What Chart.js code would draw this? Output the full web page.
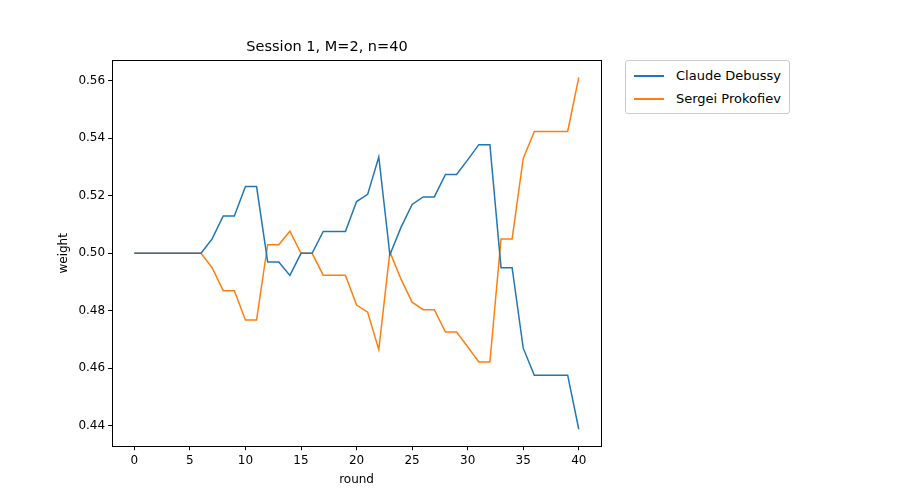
<!DOCTYPE html>
<html><head><meta charset="utf-8">
<script src="https://cdn.jsdelivr.net/npm/chart.js@4"></script>
<style>
body{margin:0;background:#fff;font-family:"DejaVu Sans",sans-serif;}
#wrap{position:relative;width:900px;height:500px;}
#legend{position:absolute;left:625px;top:60px;border:1px solid #ccc;border-radius:3px;padding:3px 8px;font-size:13px;color:#000;background:#fff;}
.li{display:flex;align-items:center;height:23px;}
.sw{width:30px;height:2px;margin-right:12px;}
</style></head>
<body><div id="wrap"><canvas id="c" width="900" height="500"></canvas>
<div id="legend"></div></div>
<script>
const rounds = Array.from({length:41},(_,i)=>i);
const debussy = [0.5,0.5,0.5,0.5,0.5,0.5,0.5,0.505,0.513,0.513,0.5232,0.5232,0.497,0.497,0.4923,0.5,0.5,0.5076,0.5076,0.5076,0.518,0.5205,0.5335,0.4995,0.509,0.517,0.5196,0.5196,0.5274,0.5274,0.5325,0.5378,0.5378,0.495,0.495,0.467,0.4576,0.4576,0.4576,0.4576,0.4388];
const prokofiev = [0.5,0.5,0.5,0.5,0.5,0.5,0.5,0.495,0.487,0.487,0.4768,0.4768,0.503,0.503,0.5077,0.5,0.5,0.4924,0.4924,0.4924,0.482,0.4795,0.4665,0.5005,0.491,0.483,0.4804,0.4804,0.4726,0.4726,0.4675,0.4622,0.4622,0.505,0.505,0.533,0.5424,0.5424,0.5424,0.5424,0.5612];
const xTicks = [0,5,10,15,20,25,30,35,40];
const yTicks = [0.44,0.46,0.48,0.50,0.52,0.54,0.56];
const names = ["Claude Debussy","Sergei Prokofiev"];
const colors = ["#1f77b4","#ff7f0e"];
const font = {family:"DejaVu Sans",size:12};
Chart.defaults.color="#000";
const tickCfg = {display:true,drawOnChartArea:false,drawTicks:true,tickLength:4,color:"#000"};
const frame = {id:"frame",afterDraw(c){const a=c.chartArea,x=c.ctx;x.save();x.strokeStyle="#000";x.lineWidth=1;x.strokeRect(Math.round(a.left)+0.5,Math.round(a.top)+0.5,Math.round(a.right-a.left),Math.round(a.bottom-a.top));x.restore();}};
new Chart(document.getElementById("c"),{
 type:"line",
 data:{datasets:[debussy,prokofiev].map((s,k)=>({label:names[k],data:s.map((v,i)=>({x:rounds[i],y:v})),borderColor:colors[k],borderWidth:1.5,pointRadius:0,tension:0,fill:false}))},
 options:{responsive:false,animation:false,
  layout:{padding:{left:53,right:299,top:8,bottom:9}},
  plugins:{legend:{display:false},tooltip:{enabled:false},
   title:{display:true,text:"Session 1, M=2, n=40",font:{family:"DejaVu Sans",size:14.5,weight:"normal"},color:"#000",padding:{top:31,bottom:4}}},
  scales:{
   x:{type:"linear",min:-2,max:42,grid:tickCfg,border:{color:"#000"},
     afterBuildTicks:a=>{a.ticks=xTicks.map(v=>({value:v}));},
     ticks:{font,padding:3,maxRotation:0,callback:v=>String(v)},
     title:{display:true,text:"round",font,padding:{top:2}}},
   y:{type:"linear",min:0.4329,max:0.5671,grid:tickCfg,border:{color:"#000"},
     afterBuildTicks:a=>{a.ticks=yTicks.map(v=>({value:v}));},
     ticks:{font,padding:3,callback:v=>v.toFixed(2)},
     title:{display:true,text:"weight",font,padding:{bottom:4}}}
  }},
 plugins:[frame]
});
document.getElementById("legend").innerHTML=names.map((n,k)=>`<div class="li"><span class="sw" style="background:${colors[k]}"></span>${n}</div>`).join("");
</script></body></html>
